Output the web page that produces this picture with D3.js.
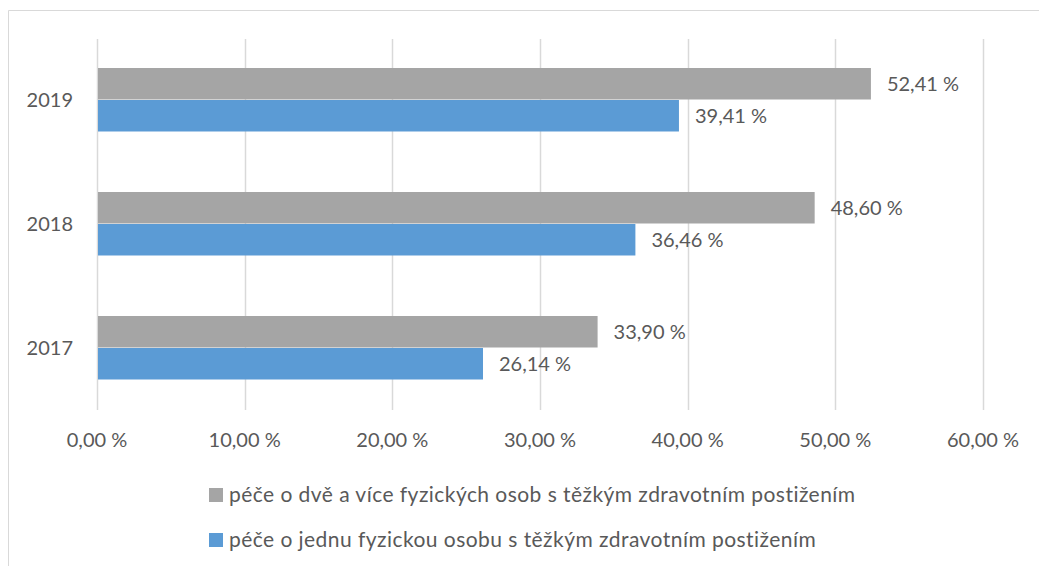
<!DOCTYPE html>
<html>
<head>
<meta charset="utf-8">
<script src="https://cdn.jsdelivr.net/npm/d3@7"></script>
<style>
  body { margin: 0; background: #fff; }
  svg { display: block; font-family: Lato, 'Open Sans', sans-serif; }
  .txt { fill: #595959; font-size: 20px; }
  .leg { fill: #595959; font-size: 21px; letter-spacing: 0.45px; }
</style>
</head>
<body>
<div id="chart"></div>
<script>
// data
var years = ['2019', '2018', '2017'];
var seriesNames = [
  'péče o dvě a více fyzických osob s těžkým zdravotním postižením',
  'péče o jednu fyzickou osobu s těžkým zdravotním postižením'
];
var seriesColors = ['#a5a5a5', '#5b9bd5'];
// hodnoty v % (pořadí jako years)
var moreValues = [52.41, 48.60, 33.90];
var oneValues = [39.41, 36.46, 26.14];
var xTicks = [0, 10, 20, 30, 40, 50, 60];

var width = 1040;
var height = 566;

var svg = d3.select('#chart').append('svg')
  .attr('width', width).attr('height', height);

// rámeček grafu (pravý a spodní okraj je oříznutý)
svg.append('path')
  .attr('d', 'M8.5,566 L8.5,10.5 L1039,10.5')
  .attr('fill', 'none')
  .attr('stroke', '#d9d9d9')
  .attr('stroke-width', 1);

var x = d3.scaleLinear().domain([0, 60]).range([97, 983]);
var y = d3.scaleBand().domain(years).range([38, 410])
  .paddingInner(0.484).paddingOuter(0.242);
var ySub = d3.scaleBand().domain([0, 1]).range([0, y.bandwidth()]);

// mřížka
svg.append('g').selectAll('line').data(xTicks).enter()
  .append('line')
  .attr('x1', function(d) { return Math.round(x(d)) + 0.5; })
  .attr('x2', function(d) { return Math.round(x(d)) + 0.5; })
  .attr('y1', 39).attr('y2', 410)
  .attr('stroke', '#d9d9d9')
  .attr('stroke-width', 1.5);

// popisky osy x
svg.append('g').selectAll('text').data(xTicks).enter()
  .append('text')
  .attr('class', 'txt')
  .attr('x', function(d) { return x(d); })
  .attr('y', 447)
  .attr('text-anchor', 'middle')
  .text(function(d) { return d3.format('.2f')(d).replace('.', ',') + ' %'; });

// popisky osy y
svg.append('g').selectAll('text').data(years).enter()
  .append('text')
  .attr('class', 'txt')
  .attr('x', 73)
  .attr('y', function(d) { return y(d) + y.bandwidth() / 2; })
  .attr('dy', '0.35em')
  .attr('text-anchor', 'end')
  .text(function(d) { return d; });

var series = [moreValues, oneValues];

series.forEach(function(vals, si) {
  var g = svg.append('g');
  g.selectAll('rect').data(vals).enter()
    .append('rect')
    .attr('x', x(0) + 1)
    .attr('y', function(d, i) { return y(years[i]) + ySub(si); })
    .attr('width', function(d) { return x(d) - x(0) - 1; })
    .attr('height', ySub.bandwidth() - 0.5)
    .attr('fill', seriesColors[si]);

  g.selectAll('text').data(vals).enter()
    .append('text')
    .attr('class', 'txt')
    .attr('x', function(d) { return x(d) + 16; })
    .attr('y', function(d, i) { return y(years[i]) + ySub(si) + ySub.bandwidth() / 2; })
    .attr('dy', '0.35em')
    .text(function(d) { return d3.format('.2f')(d).replace('.', ',') + ' %'; });
});

// legenda
var legend = svg.append('g').selectAll('g').data(seriesNames).enter()
  .append('g')
  .attr('transform', function(d, i) { return 'translate(209,' + (488 + i * 45) + ')'; });

legend.append('rect')
  .attr('width', 14).attr('height', 14)
  .attr('fill', function(d, i) { return seriesColors[i]; });

legend.append('text')
  .attr('class', 'leg')
  .attr('x', 20)
  .attr('y', 7)
  .attr('dy', '0.35em')
  .text(function(d) { return d; });
</script>
</body>
</html>
